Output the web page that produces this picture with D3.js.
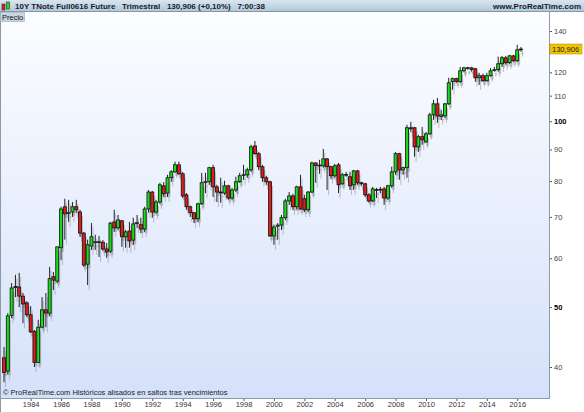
<!DOCTYPE html>
<html>
<head>
<meta charset="utf-8">
<script src="https://cdn.jsdelivr.net/npm/d3@7"></script>
<style>
  body { margin: 0; background: #fff; }
  svg { display: block; font-family: "Liberation Sans", Arial, sans-serif; }
</style>
</head>
<body>
<div class="chart"></div>
<script>
// quarterly candles, 1982 Q2 .. 2016 Q2
var firstYear = 1982, firstQuarter = 2;
var opens = [41.4,39.4,48.5,54.0,53.9,52.1,50.8,48.6,45.7,40.7,46.4,49.5,48.9,56.0,55.1,62.4,72.7,71.0,71.3,72.7,
  71.3,65.9,58.7,62.8,63.7,63.8,63.7,62.1,61.6,68.7,67.2,69.0,65.0,66.4,64.2,68.3,68.0,66.9,72.1,76.8,
  71.3,74.0,78.6,76.5,81.0,82.8,85.0,82.2,76.0,72.7,71.1,69.5,73.5,79.6,79.8,84.1,78.3,76.8,76.5,78.6,
  75.1,77.4,79.8,81.8,81.9,83.4,91.2,88.6,84.4,81.0,79.8,65.2,67.6,67.9,69.8,74.3,75.7,72.7,78.3,74.9,
  71.9,76.8,85.6,84.7,84.7,86.9,84.4,81.6,85.0,79.2,81.9,81.3,78.9,83.1,79.5,79.2,76.0,74.3,77.5,77.4,
  77.7,75.1,78.6,82.8,88.6,83.4,84.1,97.6,97.6,90.9,94.4,92.6,95.4,102.4,106.7,101.8,102.0,106.7,115.9,117.2,
  115.9,120.7,122.0,122.0,121.6,117.6,118.5,116.3,118.5,120.9,121.2,123.9,126.7,124.4,127.6,125.3,130.5];
var highs = [43.1,48.9,54.7,56.4,56.8,52.7,51.1,50.2,45.9,47.7,51.9,52.7,58.1,57.0,62.7,72.7,74.9,74.6,74.0,74.6,
  71.9,66.2,64.3,68.4,65.5,65.2,64.2,63.5,68.7,71.9,70.5,69.2,66.7,68.7,69.8,70.5,69.8,72.7,77.4,77.1,
  74.6,79.5,79.7,81.9,83.4,86.0,86.0,82.8,76.5,73.0,71.3,73.8,82.5,82.5,84.4,85.0,78.9,81.0,80.1,78.9,
  78.0,81.3,82.5,85.0,84.1,91.6,92.9,89.2,85.0,81.6,80.1,68.0,68.4,70.5,74.9,76.8,76.3,78.6,81.9,76.0,
  77.1,86.0,85.8,86.6,90.2,87.2,84.7,85.3,85.6,82.5,82.8,82.8,83.4,83.4,79.8,79.5,76.5,78.3,78.0,78.3,
  78.3,78.9,84.4,89.2,88.9,84.4,98.7,99.8,97.9,95.1,97.9,96.1,103.2,108.3,109.1,104.4,107.1,117.6,117.6,117.6,
  122.5,122.5,122.5,122.5,122.0,119.8,119.4,119.8,122.0,122.5,127.2,127.6,127.6,128.1,128.1,133.0,131.9];
var lows = [37.8,38.9,48.0,51.9,50.0,47.1,48.2,45.4,40.0,40.6,46.2,46.4,48.4,53.3,54.7,59.6,64.3,68.7,70.0,71.1,
  65.0,58.1,54.3,61.9,61.9,60.3,61.7,60.1,61.2,66.2,66.7,62.6,62.4,62.4,63.0,67.2,65.9,66.2,71.1,69.8,
  70.8,73.5,75.4,75.4,79.8,82.5,81.9,75.1,71.9,70.0,68.4,68.7,73.2,76.5,78.9,75.4,74.0,73.8,76.0,74.6,
  74.6,76.8,79.5,80.4,81.0,82.8,88.3,83.4,79.8,78.9,65.0,63.1,64.3,66.7,69.2,73.2,71.9,71.9,71.9,71.3,
  71.3,76.5,79.5,82.2,84.1,77.4,80.7,81.0,76.5,78.9,81.3,77.4,77.4,78.9,78.6,75.4,73.8,74.0,75.1,76.5,
  73.2,74.6,78.0,81.9,80.4,81.9,81.0,96.1,87.6,89.2,91.6,92.3,95.1,100.5,99.4,100.5,101.2,106.3,112.5,115.4,
  115.4,120.0,121.2,120.3,115.9,114.5,115.9,115.9,118.1,120.3,120.3,122.5,123.5,123.9,124.8,124.8,129.6];
var closes = [39.2,48.4,53.7,53.8,52.1,50.6,48.6,45.6,40.7,46.4,49.5,48.9,55.6,55.3,62.6,72.1,70.8,71.1,72.7,71.9,
  65.9,58.5,63.1,65.0,63.8,63.7,62.1,61.4,68.4,67.2,69.2,65.0,66.2,64.0,68.2,68.5,66.9,72.1,76.8,71.3,
  74.0,78.9,76.3,81.0,82.8,85.0,82.2,75.7,72.7,71.1,69.5,73.5,79.5,79.8,84.1,78.3,76.8,76.7,78.6,75.1,
  77.4,79.8,81.6,81.9,83.4,90.9,88.6,84.4,81.0,79.8,65.2,67.4,67.9,69.8,74.3,75.7,72.7,78.3,72.1,71.9,
  76.8,85.6,84.7,84.9,86.9,84.4,81.6,84.7,78.9,81.9,82.0,78.6,83.1,79.5,79.2,76.0,74.3,77.7,77.4,77.6,
  75.1,78.6,82.8,88.6,83.4,84.1,97.6,97.2,90.9,94.4,93.3,95.4,102.4,106.7,102.0,102.4,106.7,115.4,117.2,115.9,
  120.7,122.0,122.1,121.2,117.6,118.5,116.3,118.5,120.7,121.2,123.9,126.7,124.4,127.6,125.3,130.5,130.9];

var yTicks = [40, 50, 60, 70, 80, 90, 100, 110, 120, 140];
var boldTicks = [50, 100];
var lastPrice = 130.906;
var lastLabel = "130,906";
var titleText = "10Y TNote Full0616 Future   Trimestral   130,906 (+0,10%)   7:00:38";
var siteText = "www.ProRealTime.com";
var footText = "\u00a9 ProRealTime.com  Hist\u00f3ricos alisados en saltos tras vencimientos";

var svgWidth = 584;
var svgHeight = 412;
var plot = { left: 1, top: 12, right: 549, bottom: 398 };

var svg = d3.select(".chart")
    .append("svg")
    .attr("width", svgWidth)
    .attr("height", svgHeight);

var defs = svg.append("defs");
var bg = defs.append("linearGradient").attr("id", "bg").attr("x1", 0).attr("y1", 0).attr("x2", 0).attr("y2", 1);
bg.append("stop").attr("offset", "0%").attr("stop-color", "#fcfdff");
bg.append("stop").attr("offset", "100%").attr("stop-color", "#d5e1fa");
var tb = defs.append("linearGradient").attr("id", "tb").attr("x1", 0).attr("y1", 0).attr("x2", 0).attr("y2", 1);
tb.append("stop").attr("offset", "0%").attr("stop-color", "#d9e6ef");
tb.append("stop").attr("offset", "100%").attr("stop-color", "#aec6d8");
defs.append("clipPath").attr("id", "clip").append("rect")
    .attr("x", plot.left).attr("y", plot.top)
    .attr("width", plot.right - plot.left).attr("height", plot.bottom - plot.top);

// plot background
svg.append("rect")
    .attr("x", plot.left).attr("y", plot.top)
    .attr("width", plot.right - plot.left).attr("height", plot.bottom - plot.top)
    .attr("fill", "url(#bg)");

// data
var data = opens.map(function(o, i) {
    var q = firstQuarter - 1 + i;
    return {
        date: new Date(firstYear + Math.floor(q / 4), (q % 4) * 3, 1),
        open: o, high: highs[i], low: lows[i], close: closes[i]
    };
});

var x = d3.scaleTime()
    .domain([new Date(1982, 3, 1), new Date(2016, 3, 1)])
    .range([4, 521]);

var y = d3.scaleLog()
    .domain([40, 140])
    .range([367, 31]);

var bodyW = 3;
var candles = svg.append("g").attr("clip-path", "url(#clip)");

// shadows
candles.selectAll("line.sh")
    .data(data).enter().append("line")
    .attr("class", "sh")
    .attr("x1", d => x(d.date) + 1.5).attr("x2", d => x(d.date) + 1.5)
    .attr("y1", d => y(d.high) + 4).attr("y2", d => y(d.low) + 5)
    .attr("stroke", "#8a8f99").attr("stroke-opacity", 0.55).attr("stroke-width", 1);
candles.selectAll("rect.sh")
    .data(data).enter().append("rect")
    .attr("class", "sh")
    .attr("x", d => x(d.date) - bodyW / 2 + 1.5)
    .attr("y", d => y(Math.max(d.open, d.close)) + 4)
    .attr("width", bodyW)
    .attr("height", d => Math.max(1, Math.abs(y(d.open) - y(d.close))))
    .attr("fill", "#8a8f99").attr("fill-opacity", 0.45);

// wicks
candles.selectAll("line.wick")
    .data(data).enter().append("line")
    .attr("class", "wick")
    .attr("x1", d => x(d.date)).attr("x2", d => x(d.date))
    .attr("y1", d => y(d.high)).attr("y2", d => y(d.low))
    .attr("stroke", "#222").attr("stroke-width", 1);

// bodies
candles.selectAll("rect.body")
    .data(data).enter().append("rect")
    .attr("class", "body")
    .attr("x", d => x(d.date) - bodyW / 2)
    .attr("y", d => y(Math.max(d.open, d.close)))
    .attr("width", bodyW)
    .attr("height", d => Math.max(0.8, Math.abs(y(d.open) - y(d.close))))
    .attr("fill", d => d.close >= d.open ? "#19dc19" : "#e41b1b")
    .attr("stroke", "#111").attr("stroke-width", 0.8);

// right axis
svg.append("rect").attr("x", plot.right).attr("y", plot.top)
    .attr("width", svgWidth - plot.right).attr("height", svgHeight - plot.top).attr("fill", "#fff");
svg.append("rect").attr("x", 0).attr("y", plot.bottom)
    .attr("width", plot.right).attr("height", svgHeight - plot.bottom).attr("fill", "#fff");

var rightAxis = d3.axisRight(y)
    .tickValues(yTicks)
    .tickSize(3)
    .tickPadding(2)
    .tickFormat(d3.format("d"));
var ra = svg.append("g")
    .attr("transform", `translate(${plot.right}, 0)`)
    .call(rightAxis);
ra.select(".domain").remove();
ra.selectAll("line").attr("stroke", "#555");
ra.selectAll("text")
    .attr("font-size", "7.5px").attr("fill", "#333")
    .attr("font-family", "Liberation Sans, Arial, sans-serif")
    .attr("font-weight", d => boldTicks.indexOf(d) >= 0 ? "bold" : "normal")
    .attr("fill", d => boldTicks.indexOf(d) >= 0 ? "#000" : "#444");

// bottom axis
var bottomAxis = d3.axisBottom(x)
    .ticks(d3.timeYear.every(2))
    .tickSize(3)
    .tickPadding(1)
    .tickFormat(d3.timeFormat("%Y"));
var ba = svg.append("g")
    .attr("transform", `translate(0, ${plot.bottom})`)
    .call(bottomAxis);
ba.select(".domain").remove();
ba.selectAll("line").attr("stroke", "#555");
ba.selectAll("text")
    .attr("font-size", "7.5px").attr("fill", "#333")
    .attr("font-family", "Liberation Sans, Arial, sans-serif");
ba.selectAll(".tick").filter(d => d.getFullYear() < 1984 || d.getFullYear() > 2016).remove();

// frame lines
svg.append("line").attr("x1", plot.right + 0.5).attr("x2", plot.right + 0.5)
    .attr("y1", plot.top).attr("y2", plot.bottom).attr("stroke", "#8c9aa6");
svg.append("line").attr("x1", 0).attr("x2", plot.right + 1)
    .attr("y1", plot.bottom + 0.5).attr("y2", plot.bottom + 0.5).attr("stroke", "#8c9aa6");
svg.append("line").attr("x1", 0.5).attr("x2", 0.5)
    .attr("y1", plot.top).attr("y2", svgHeight).attr("stroke", "#8c9aa6");

// last price label
svg.append("rect")
    .attr("x", plot.right + 1).attr("y", y(lastPrice) - 5)
    .attr("width", 32).attr("height", 10)
    .attr("fill", "#f2c500").attr("stroke", "#b08d00").attr("stroke-width", 0.5);
svg.append("text")
    .attr("x", plot.right + 3).attr("y", y(lastPrice) + 3)
    .attr("font-size", "7.5px").attr("fill", "#222")
    .text(lastLabel);

// footer note
svg.append("text")
    .attr("x", 3).attr("y", plot.bottom - 3)
    .attr("font-size", "7.5px").attr("fill", "#222")
    .text(footText);

// title bar
svg.append("rect").attr("x", 0).attr("y", 0).attr("width", svgWidth).attr("height", 12)
    .attr("fill", "url(#tb)");
svg.append("line").attr("x1", 0).attr("x2", svgWidth).attr("y1", 11.5).attr("y2", 11.5).attr("stroke", "#7f98ab");
svg.append("rect").attr("x", 2).attr("y", 4).attr("width", 3).attr("height", 6)
    .attr("fill", "#e41b1b").attr("stroke", "#333").attr("stroke-width", 0.6);
svg.append("rect").attr("x", 6.5).attr("y", 2).attr("width", 3).attr("height", 7)
    .attr("fill", "#19dc19").attr("stroke", "#333").attr("stroke-width", 0.6);
svg.append("text")
    .attr("x", 15).attr("y", 9)
    .attr("font-size", "8px").attr("font-weight", "bold").attr("fill", "#1a1a2a")
    .attr("xml:space", "preserve").style("white-space", "pre")
    .text(titleText);
svg.append("text")
    .attr("x", svgWidth - 3).attr("y", 9)
    .attr("text-anchor", "end")
    .attr("font-size", "8px").attr("font-weight", "bold").attr("fill", "#1a1a2a")
    .text(siteText);

// "Precio" tag
svg.append("rect").attr("x", 0.5).attr("y", 12.5).attr("width", 24).attr("height", 9)
    .attr("fill", "#c9d6e1").attr("stroke", "#9aabb8").attr("stroke-width", 0.6);
svg.append("text").attr("x", 2).attr("y", 20)
    .attr("font-size", "7.5px").attr("fill", "#111")
    .text("Precio");
</script>
</body>
</html>
